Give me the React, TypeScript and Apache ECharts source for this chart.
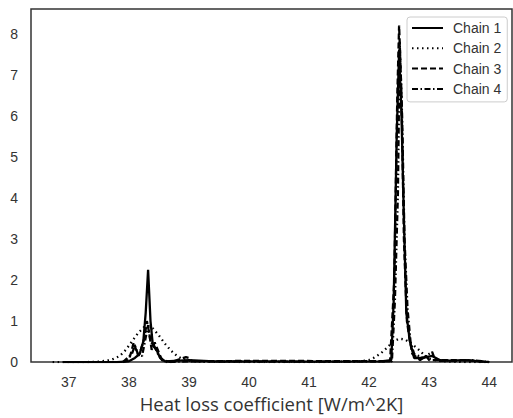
import React, { useEffect, useRef } from "react";
import * as echarts from "echarts";

const xTicks = [37, 38, 39, 40, 41, 42, 43, 44];
const yTicks = [0, 1, 2, 3, 4, 5, 6, 7, 8];
const seriesNames = ["Chain 1", "Chain 2", "Chain 3", "Chain 4"];

const chain1: number[][] = [
  [36.9, 0], [37.8, 0], [38.0, 0.02], [38.1, 0.1], [38.18, 0.2], [38.24, 0.5], [38.28, 1.2],
  [38.32, 2.25], [38.36, 1.0], [38.4, 0.4], [38.46, 0.3], [38.52, 0.1], [38.6, 0.02],
  [39.0, 0.05], [39.5, 0.01], [40.2, 0.02], [41.0, 0.01], [42.2, 0.02], [42.37, 0.05],
  [42.41, 1.5], [42.46, 5.5], [42.5, 7.6], [42.54, 6.0], [42.58, 3.5], [42.62, 1.2],
  [42.68, 0.5], [42.75, 0.1], [42.9, 0.1], [43.05, 0.15], [43.2, 0.03], [43.6, 0.05], [44.0, 0],
];

const chain2: number[][] = [
  [36.73, 0], [37.0, 0], [37.3, 0], [37.5, 0.01], [37.7, 0.05], [37.85, 0.15], [37.95, 0.3],
  [38.05, 0.5], [38.15, 0.7], [38.25, 0.85], [38.32, 0.88], [38.4, 0.82], [38.5, 0.65],
  [38.6, 0.45], [38.7, 0.28], [38.8, 0.15], [38.9, 0.07], [39.0, 0.03], [39.3, 0.01],
  [40.0, 0], [41.0, 0], [41.8, 0.01], [42.0, 0.05], [42.1, 0.12], [42.2, 0.22], [42.3, 0.35],
  [42.4, 0.5], [42.5, 0.57], [42.6, 0.55], [42.7, 0.45], [42.8, 0.34], [42.9, 0.2],
  [43.0, 0.08], [43.2, 0.02], [43.6, 0], [44.0, 0],
];

const chain3: number[][] = [
  [37.9, 0], [38.0, 0.05], [38.05, 0.3], [38.08, 0.48], [38.12, 0.3], [38.16, 0.15],
  [38.2, 0.3], [38.26, 0.6], [38.3, 1.0], [38.34, 0.7], [38.38, 0.3], [38.43, 0.48],
  [38.48, 0.3], [38.55, 0.05], [38.7, 0], [38.95, 0.12], [39.0, 0.1], [39.05, 0.02],
  [40.2, 0.03], [42.35, 0.02], [42.42, 2.0], [42.47, 6.5], [42.5, 8.2], [42.54, 6.5],
  [42.58, 3.0], [42.63, 1.0], [42.67, 0.6], [42.72, 0.2], [42.85, 0.05], [42.95, 0.15],
  [43.0, 0.05], [43.6, 0.05], [44.0, 0],
];

const chain4: number[][] = [
  [37.9, 0], [38.05, 0.2], [38.1, 0.4], [38.15, 0.2], [38.22, 0.15], [38.28, 0.6],
  [38.32, 0.9], [38.36, 0.5], [38.42, 0.4], [38.5, 0.15], [38.6, 0], [39.0, 0.02],
  [41.0, 0.01], [42.38, 0.02], [42.43, 1.5], [42.48, 4.1], [42.51, 7.8], [42.55, 6.0],
  [42.59, 3.0], [42.64, 1.3], [42.69, 0.5], [42.75, 0.2], [42.9, 0.1], [43.05, 0.25],
  [43.1, 0.05], [43.5, 0.03], [43.7, 0.05], [44.0, 0],
];

const chainData = [chain1, chain2, chain3, chain4];
const dashTypes: any[] = ["solid", [1.5, 3.5], [6, 3], [6, 2.5, 1.5, 2.5]];

export default function App() {
  const ref = useRef<HTMLDivElement>(null);
  useEffect(() => {
    if (!ref.current) return;
    const chart = echarts.init(ref.current, undefined, { renderer: "svg" });
    const font = "'Liberation Sans', Arial, sans-serif";
    chart.setOption({
      animation: false,
      textStyle: { fontFamily: font },
      grid: {
        left: 31, top: 9, width: 481, height: 359,
        show: true, borderColor: "#333", borderWidth: 1.5, backgroundColor: "#fff",
      },
      legend: {
        orient: "vertical",
        left: 407,
        top: 17,
        padding: [4, 6, 6, 4],
        itemWidth: 31,
        itemHeight: 14,
        itemGap: 6.3,
        backgroundColor: "#fff",
        borderColor: "#ccc",
        borderWidth: 1,
        borderRadius: 3,
        itemStyle: { opacity: 0 },
        textStyle: { fontSize: 14, color: "#333", fontFamily: font, padding: [0, 0, 0, 5] },
        data: seriesNames,
      },
      xAxis: {
        type: "value",
        min: 36.37,
        max: 44.38,
        splitLine: { show: false },
        axisTick: { show: false },
        axisLine: { show: false },
        axisLabel: {
          customValues: xTicks,
          fontSize: 14,
          color: "#333",
          margin: 13,
          fontFamily: font,
        },
        name: "Heat loss coefficient [W/m^2K]",
        nameLocation: "middle",
        nameGap: 28,
        nameTextStyle: { fontSize: 18.5, color: "#333", fontFamily: "'Open Sans', sans-serif" },
      },
      yAxis: {
        type: "value",
        min: 0,
        max: 8.6,
        splitLine: { show: false },
        axisTick: { show: false },
        axisLine: { show: false },
        axisLabel: {
          customValues: yTicks,
          fontSize: 14,
          color: "#333",
          margin: 13,
          fontFamily: font,
        },
      },
      series: chainData.map((d, i) => ({
        name: seriesNames[i],
        type: "line",
        data: d,
        symbol: "none",
        showSymbol: false,
        lineStyle: { color: "#000", width: 2.3, type: dashTypes[i] },
        itemStyle: { color: "#000" },
        z: 2,
      })),
    });
    return () => chart.dispose();
  }, []);
  return <div ref={ref} style={{ width: 513, height: 418, position: "absolute", left: 0, top: 0 }} />;
}
